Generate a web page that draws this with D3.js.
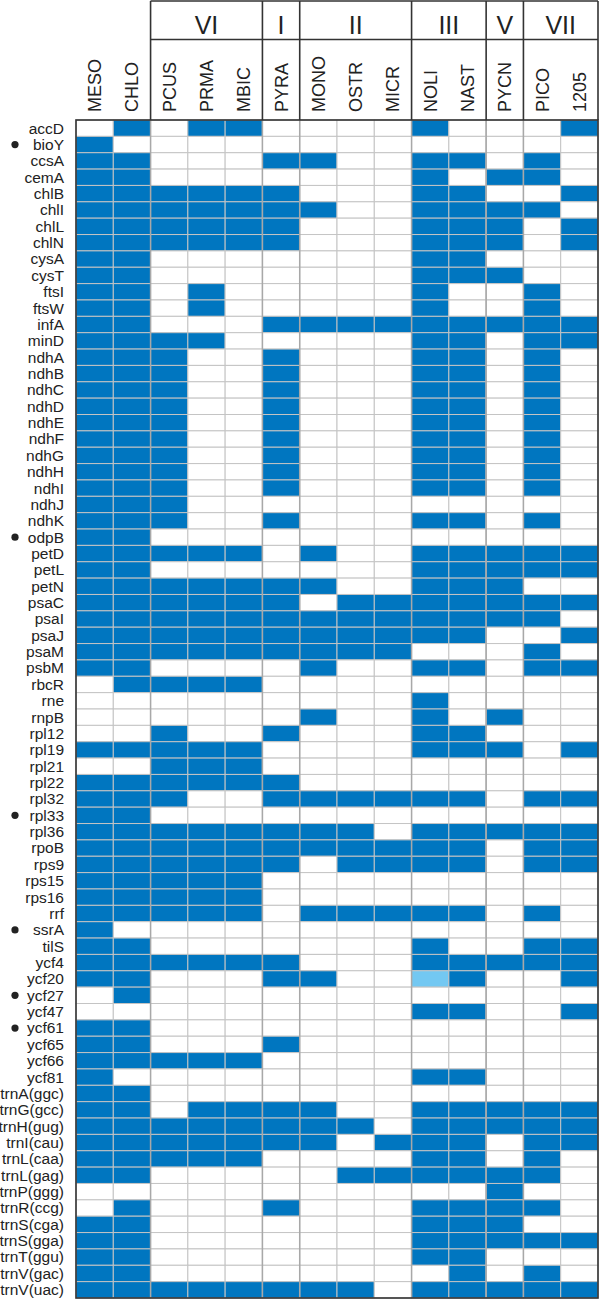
<!DOCTYPE html>
<meta charset="utf-8">
<head>
  <title>Gene presence matrix</title>
  <style>
    body { margin: 0; background: #fff; }
    text { font-family: "Liberation Sans", Arial, sans-serif; fill: #222; }
  </style>
</head>
<body>
<svg width="600" height="1303"></svg>

<script src="https://cdnjs.cloudflare.com/ajax/libs/d3/7.8.5/d3.min.js"></script>
<script>
var columns = ['MESO', 'CHLO', 'PCUS', 'PRMA', 'MBIC', 'PYRA', 'MONO', 'OSTR', 'MICR', 'NOLI', 'NAST', 'PYCN', 'PICO', '1205'];

// clade groups over the columns (first / last column name)
var groups = [
  {name: 'VI', from: 'PCUS', to: 'MBIC'},
  {name: 'I', from: 'PYRA', to: 'PYRA'},
  {name: 'II', from: 'MONO', to: 'MICR'},
  {name: 'III', from: 'NOLI', to: 'NAST'},
  {name: 'V', from: 'PYCN', to: 'PYCN'},
  {name: 'VII', from: 'PICO', to: '1205'}
];

var genes = ['accD', 'bioY', 'ccsA', 'cemA', 'chlB', 'chlI', 'chlL', 'chlN', 'cysA', 'cysT',
  'ftsI', 'ftsW', 'infA', 'minD', 'ndhA', 'ndhB', 'ndhC', 'ndhD', 'ndhE', 'ndhF', 'ndhG',
  'ndhH', 'ndhI', 'ndhJ', 'ndhK', 'odpB', 'petD', 'petL', 'petN', 'psaC', 'psaI', 'psaJ',
  'psaM', 'psbM', 'rbcR', 'rne', 'rnpB', 'rpl12', 'rpl19', 'rpl21', 'rpl22', 'rpl32',
  'rpl33', 'rpl36', 'rpoB', 'rps9', 'rps15', 'rps16', 'rrf', 'ssrA', 'tilS', 'ycf4',
  'ycf20', 'ycf27', 'ycf47', 'ycf61', 'ycf65', 'ycf66', 'ycf81', 'trnA(ggc)', 'trnG(gcc)',
  'trnH(gug)', 'trnI(cau)', 'trnL(caa)', 'trnL(gag)', 'trnP(ggg)', 'trnR(ccg)', 'trnS(cga)',
  'trnS(gga)', 'trnT(ggu)', 'trnV(gac)', 'trnV(uac)'];

// genes marked with a dot
var marked = ['bioY', 'odpB', 'rpl33', 'ssrA', 'ycf27', 'ycf61'];

// 1 = present, 2 = partial (light blue), 0 = absent; one row per gene, columns as above
var presence = [
  [0,1,0,1,1,0,0,0,0,1,0,0,0,1], // accD
  [1,0,0,0,0,0,0,0,0,0,0,0,0,0], // bioY
  [1,1,0,0,0,1,1,0,0,1,1,0,1,0], // ccsA
  [1,1,0,0,0,0,0,0,0,1,0,1,1,0], // cemA
  [1,1,1,1,1,1,0,0,0,1,1,0,0,1], // chlB
  [1,1,1,1,1,1,1,0,0,1,1,1,1,0], // chlI
  [1,1,1,1,1,1,0,0,0,1,1,1,0,1], // chlL
  [1,1,1,1,1,1,0,0,0,1,1,1,0,1], // chlN
  [1,1,0,0,0,0,0,0,0,1,1,0,0,0], // cysA
  [1,1,0,0,0,0,0,0,0,1,1,1,0,0], // cysT
  [1,1,0,1,0,0,0,0,0,1,0,0,1,0], // ftsI
  [1,1,0,1,0,0,0,0,0,1,0,0,1,0], // ftsW
  [1,1,0,0,0,1,1,1,1,1,1,1,1,1], // infA
  [1,1,1,1,0,0,0,0,0,1,1,0,1,1], // minD
  [1,1,1,0,0,1,0,0,0,1,1,0,1,0], // ndhA
  [1,1,1,0,0,1,0,0,0,1,1,0,1,0], // ndhB
  [1,1,1,0,0,1,0,0,0,1,1,0,1,0], // ndhC
  [1,1,1,0,0,1,0,0,0,1,1,0,1,0], // ndhD
  [1,1,1,0,0,1,0,0,0,1,1,0,1,0], // ndhE
  [1,1,1,0,0,1,0,0,0,1,1,0,1,0], // ndhF
  [1,1,1,0,0,1,0,0,0,1,1,0,1,0], // ndhG
  [1,1,1,0,0,1,0,0,0,1,1,0,1,0], // ndhH
  [1,1,1,0,0,1,0,0,0,1,1,0,1,0], // ndhI
  [1,1,1,0,0,0,0,0,0,0,0,0,0,0], // ndhJ
  [1,1,1,0,0,1,0,0,0,1,1,0,1,0], // ndhK
  [1,1,0,0,0,0,0,0,0,0,0,0,0,0], // odpB
  [1,1,1,1,1,0,1,0,0,1,1,1,1,1], // petD
  [1,1,0,0,0,0,0,0,0,1,1,1,1,1], // petL
  [1,1,1,1,1,1,1,0,0,1,1,1,0,0], // petN
  [1,1,1,1,1,1,0,1,1,1,1,1,1,1], // psaC
  [1,1,1,1,1,1,1,1,1,1,1,1,1,0], // psaI
  [1,1,1,1,1,1,1,1,1,1,1,0,0,1], // psaJ
  [1,1,1,1,1,1,1,1,1,0,0,0,1,0], // psaM
  [1,1,0,0,0,0,1,0,0,1,1,0,1,1], // psbM
  [0,1,1,1,1,0,0,0,0,0,0,0,0,0], // rbcR
  [0,0,0,0,0,0,0,0,0,1,0,0,0,0], // rne
  [0,0,0,0,0,0,1,0,0,1,0,1,0,0], // rnpB
  [0,0,1,0,0,1,0,0,0,1,1,0,0,0], // rpl12
  [1,1,1,1,1,0,0,0,0,1,1,1,0,1], // rpl19
  [0,0,1,1,1,0,0,0,0,0,0,0,0,0], // rpl21
  [1,1,1,1,1,1,0,0,0,0,0,0,0,0], // rpl22
  [1,1,1,0,0,1,1,1,1,1,1,0,1,1], // rpl32
  [1,1,0,0,0,0,0,0,0,0,0,0,0,0], // rpl33
  [1,1,1,1,1,1,1,1,0,1,1,1,1,1], // rpl36
  [1,1,1,1,1,1,1,1,1,1,1,0,1,1], // rpoB
  [1,1,1,1,1,1,0,1,1,1,1,0,1,1], // rps9
  [1,1,1,1,1,0,0,0,0,0,0,0,0,0], // rps15
  [1,1,1,1,1,0,0,0,0,0,0,0,0,0], // rps16
  [1,1,1,1,1,0,1,1,1,1,1,0,1,0], // rrf
  [1,0,0,0,0,0,0,0,0,0,0,0,0,0], // ssrA
  [1,1,0,0,0,0,0,0,0,1,0,0,1,1], // tilS
  [1,1,1,1,1,1,0,0,0,1,1,1,1,1], // ycf4
  [1,1,0,0,0,1,1,0,0,2,1,0,0,1], // ycf20
  [0,1,0,0,0,0,0,0,0,0,0,0,0,0], // ycf27
  [0,0,0,0,0,0,0,0,0,1,1,0,0,1], // ycf47
  [1,1,0,0,0,0,0,0,0,0,0,0,0,0], // ycf61
  [1,1,0,0,0,1,0,0,0,0,0,0,0,0], // ycf65
  [1,1,1,1,1,0,0,0,0,0,0,0,0,0], // ycf66
  [1,0,0,0,0,0,0,0,0,1,1,0,0,0], // ycf81
  [1,1,0,0,0,0,0,0,0,0,0,0,0,0], // trnA(ggc)
  [1,1,0,1,1,1,1,0,0,1,1,1,1,1], // trnG(gcc)
  [1,1,1,1,1,1,1,1,0,1,1,1,1,1], // trnH(gug)
  [1,1,1,1,1,1,1,0,1,1,1,0,1,1], // trnI(cau)
  [1,1,1,1,1,0,0,0,0,1,1,0,1,0], // trnL(caa)
  [1,1,0,0,0,0,0,1,1,1,1,1,1,0], // trnL(gag)
  [0,0,0,0,0,0,0,0,0,0,0,1,0,0], // trnP(ggg)
  [0,1,0,0,0,1,0,0,0,1,1,1,1,0], // trnR(ccg)
  [1,1,0,0,0,0,0,0,0,1,1,1,0,0], // trnS(cga)
  [1,1,0,0,0,0,0,0,0,1,1,1,1,1], // trnS(gga)
  [1,1,0,0,0,0,0,0,0,1,1,0,0,0], // trnT(ggu)
  [1,1,0,0,0,0,0,0,0,0,1,0,1,0], // trnV(gac)
  [1,1,1,1,1,1,1,1,0,1,1,1,1,1]  // trnV(uac)
];

var fills = ['#ffffff', '#0076c0', '#73c8f2'];

var svg = d3.select('svg');

var x = d3.scaleBand().domain(columns).range([76, 598]);
var y = d3.scaleBand().domain(genes).range([120, 1298]);

var cells = [];
genes.forEach(function(g, i) {
  columns.forEach(function(c, j) {
    cells.push({gene: g, col: c, v: presence[i][j]});
  });
});

svg.append('g')
  .selectAll('rect')
  .data(cells)
  .enter()
  .append('rect')
  .attr('x', function(d) { return x(d.col); })
  .attr('y', function(d) { return y(d.gene); })
  .attr('width', x.bandwidth())
  .attr('height', y.bandwidth())
  .style('fill', function(d) { return fills[d.v]; })
  .style('stroke', '#c4c4c4')
  .style('stroke-width', 1);

// group separators inside the grid
var bounds = groups.map(function(g) { return x(g.from); });
svg.append('g')
  .selectAll('line')
  .data(bounds)
  .enter()
  .append('line')
  .attr('x1', function(d) { return d; })
  .attr('x2', function(d) { return d; })
  .attr('y1', 120)
  .attr('y2', 1298)
  .style('stroke', '#a8a8a8')
  .style('stroke-width', 1.5);

// outer border of the grid
svg.append('rect')
  .attr('x', x.range()[0])
  .attr('y', y.range()[0])
  .attr('width', x.range()[1] - x.range()[0])
  .attr('height', y.range()[1] - y.range()[0])
  .style('fill', 'none')
  .style('stroke', '#333')
  .style('stroke-width', 1.6);

// header boxes for the groups
var head = svg.append('g').style('stroke', '#333').style('stroke-width', 1.6);
var hx0 = x(groups[0].from), hx1 = x.range()[1];
head.append('line').attr('x1', hx0).attr('x2', hx1).attr('y1', 1).attr('y2', 1);
head.append('line').attr('x1', hx0).attr('x2', hx1).attr('y1', 39.5).attr('y2', 39.5);
head.selectAll('line.sep')
  .data(bounds.concat([hx1]))
  .enter()
  .append('line')
  .attr('class', 'sep')
  .attr('x1', function(d) { return d; })
  .attr('x2', function(d) { return d; })
  .attr('y1', 1)
  .attr('y2', 120);

svg.append('g')
  .selectAll('text')
  .data(groups)
  .enter()
  .append('text')
  .attr('x', function(d) { return (x(d.from) + x(d.to) + x.bandwidth()) / 2; })
  .attr('y', 34)
  .attr('text-anchor', 'middle')
  .style('font-size', '25px')
  .text(function(d) { return d.name; });

// column names
svg.append('g')
  .selectAll('text')
  .data(columns)
  .enter()
  .append('text')
  .attr('transform', function(d) {
    return 'translate(' + (x(d) + x.bandwidth() / 2 + 6.5) + ',112) rotate(-90)';
  })
  .style('font-size', '18px')
  .text(function(d) { return d; });

// gene names
svg.append('g')
  .selectAll('text')
  .data(genes)
  .enter()
  .append('text')
  .attr('x', 64)
  .attr('y', function(d) { return y(d) + y.bandwidth() / 2 + 5.4; })
  .attr('text-anchor', 'end')
  .style('font-size', '15.5px')
  .text(function(d) { return d; });

svg.append('g')
  .selectAll('circle')
  .data(marked)
  .enter()
  .append('circle')
  .attr('cx', 15)
  .attr('cy', function(d) { return y(d) + y.bandwidth() / 2; })
  .attr('r', 3.6)
  .style('fill', '#222');
</script>
</body>
